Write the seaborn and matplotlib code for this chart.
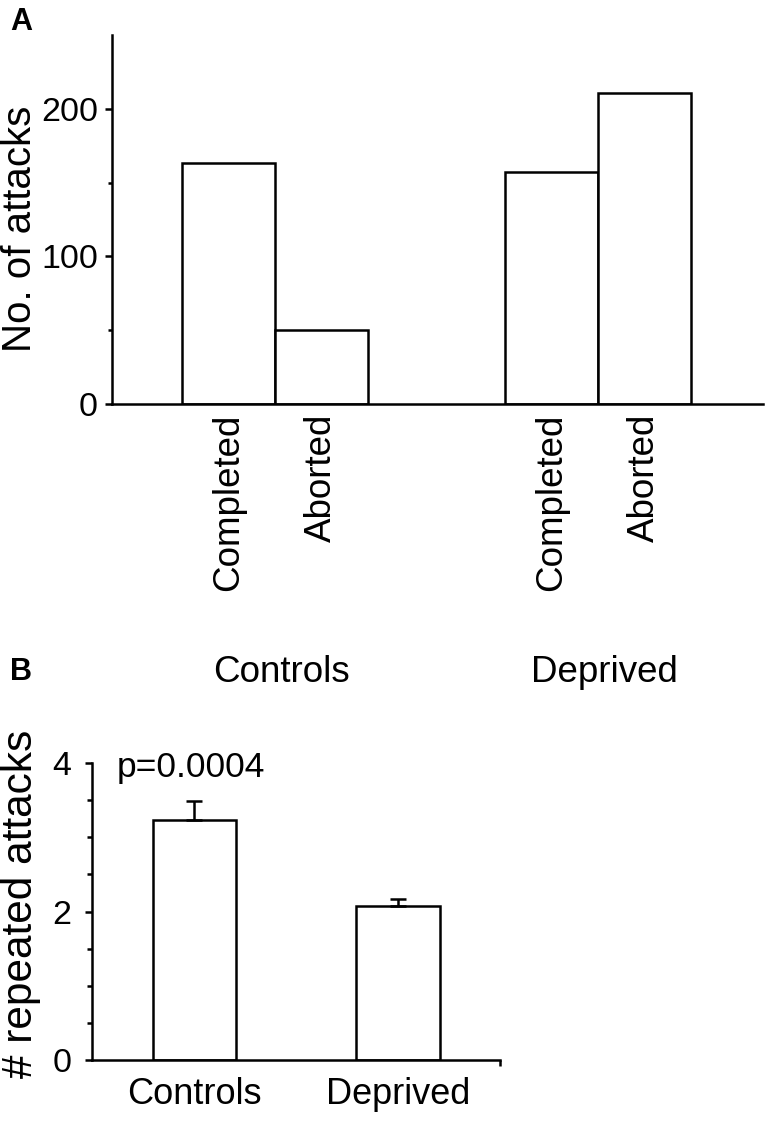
import matplotlib
matplotlib.use("Agg")
import matplotlib.pyplot as plt
import matplotlib.transforms as mtransforms
from matplotlib.ticker import FixedLocator
import seaborn as sns
import pandas as pd

# ---- data ----
groups = ["Controls", "Deprived"]
outcomes = ["Completed", "Aborted"]
attacks_controls = [163, 50]
attacks_deprived = [157, 211]
repeated_means = [3.23, 2.07]
repeated_sem = [0.26, 0.10]
p_text = "p=0.0004"

sns.set_theme(style="ticks")
plt.rcParams["font.family"] = ["Liberation Sans", "DejaVu Sans"]
plt.rcParams.update({"text.color": "black", "axes.labelcolor": "black",
                     "xtick.color": "black", "ytick.color": "black",
                     "axes.edgecolor": "black"})
LW = 1.8

df_a = pd.DataFrame({
    "group": [g for g in groups for _ in outcomes],
    "outcome": outcomes * len(groups),
    "attacks": attacks_controls + attacks_deprived,
})

fig = plt.figure(figsize=(7.67, 11.21), dpi=100)
W, H = 767, 1121

def px_axes(left, top, right, bottom):
    return fig.add_axes([left / W, 1 - bottom / H, (right - left) / W, (bottom - top) / H])

# ---------------- Panel A ----------------
axA = px_axes(112, 35, 763, 404)
sns.barplot(data=df_a, x="group", y="attacks", hue="outcome", order=groups,
            hue_order=outcomes, palette=["white", "white"], edgecolor="black",
            linewidth=LW, width=0.576, saturation=1, legend=False, ax=axA)
axA.set_xlim(-0.505, 1.511)
axA.set_ylim(0, 250)
axA.set_yticks([0, 100, 200])
axA.yaxis.set_minor_locator(FixedLocator([50, 150]))
axA.tick_params(axis="y", which="major", length=5, width=LW, labelsize=24.5, pad=5)
axA.tick_params(axis="y", which="minor", length=3, width=LW)
axA.set_xticks([])
axA.set_xlabel("")
axA.set_ylabel("No. of attacks", fontsize=29)
axA.yaxis.set_label_coords(-0.112, 0.474)
for s in ["top", "right"]:
    axA.spines[s].set_visible(False)
for s in ["left", "bottom"]:
    axA.spines[s].set_linewidth(LW)

trA = mtransforms.blended_transform_factory(axA.transData, axA.transAxes)
for i, cont in enumerate(axA.containers):
    for patch in cont.patches:
        cx = patch.get_x() + patch.get_width() / 2
        axA.annotate(outcomes[i], xy=(cx, 0), xycoords=trA, xytext=(0, -7),
                     textcoords="offset points", rotation=90, ha="center", va="top",
                     fontsize=26.5)
for gi, g in enumerate(groups):
    axA.text(gi + 0.02, -0.754, g, transform=trA, ha="center", va="baseline", fontsize=26.5)

# ---------------- Panel B ----------------
axB = px_axes(92, 763, 500, 1060)
sns.barplot(x=groups, y=repeated_means, color="white", edgecolor="black",
            linewidth=LW, width=0.41, saturation=1, ax=axB)
bars = axB.containers[0].patches
xs = [b.get_x() + b.get_width() / 2 for b in bars]
axB.errorbar(xs, repeated_means, yerr=[[0] * len(repeated_sem), repeated_sem],
             fmt="none", ecolor="black", elinewidth=LW, capsize=5.5, capthick=LW, zorder=1)
axB.set_xlim(-0.503, 1.5)
axB.set_ylim(0, 4)
axB.set_yticks([0, 2, 4])
axB.yaxis.set_minor_locator(FixedLocator([0.5, 1, 1.5, 2.5, 3, 3.5]))
axB.tick_params(axis="y", which="major", length=5, width=LW, labelsize=24.5, pad=10)
axB.tick_params(axis="y", which="minor", length=3.5, width=LW)
axB.tick_params(axis="x", which="major", length=0, labelsize=26, pad=12)
axB.set_xticks([1.5], minor=True)
axB.tick_params(axis="x", which="minor", length=4, width=LW)
axB.set_ylabel("# repeated attacks", fontsize=30.5)
axB.yaxis.set_label_coords(-0.125, 0.525)
for s in ["top", "right"]:
    axB.spines[s].set_visible(False)
for s in ["left", "bottom"]:
    axB.spines[s].set_linewidth(LW)
axB.text(-0.38, 3.81, p_text, ha="left", va="baseline", fontsize=25.5)

# panel letters
fig.text(10 / W, 1 - 30 / H, "A", fontsize=22, fontweight="bold", ha="left", va="baseline")
fig.text(10 / W, 1 - 680 / H, "B", fontsize=22, fontweight="bold", ha="left", va="baseline")

fig.savefig("out.png", dpi=100, facecolor="white")
